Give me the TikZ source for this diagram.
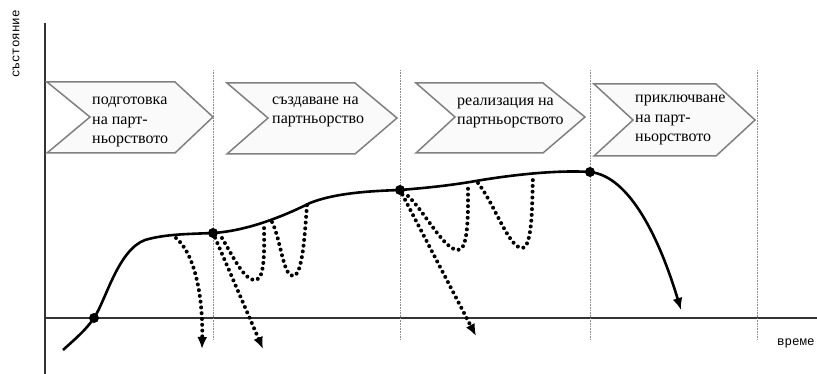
\documentclass[tikz,border=0pt]{standalone}
\usepackage{fontspec}
\setmainfont{Liberation Serif}
\newfontfamily\monof{Liberation Mono}
\usetikzlibrary{arrows.meta}
\begin{document}
\begin{tikzpicture}[x=1pt,y=-1pt,
  axisline/.style={draw=black!80,line width=1.2pt},
  sepline/.style={draw=black!45,line width=0.8pt,dash pattern=on 0.8pt off 0.8pt},
  chev/.style={draw=black!50,line width=1.5pt,fill=black!2,line join=miter},
  phasetext/.style={font=\fontsize{16}{19.5}\selectfont,align=left,anchor=west,inner sep=0pt},
  mainline/.style={line width=2.6pt,black},
  dotline/.style={line width=4pt,dash pattern=on 0pt off 5.8pt,line cap=round},
  tip/.style={-{Latex[length=12pt,width=10pt]}},
  axislabel/.style={font=\monof\fontsize{12.5}{13}\selectfont,inner sep=0pt},
  point/.style={circle,fill=black,inner sep=0pt,minimum size=10pt}
]
\useasboundingbox (0,0) rectangle (817,374);

% axes
\coordinate (ytop) at (45,23);
\coordinate (ybot) at (45,374);
\coordinate (xl) at (45,318);
\coordinate (xr) at (817,318);
\draw[axisline] (ybot) -- (ytop);
\draw[axisline] (xl) -- (xr);
\node[axislabel,rotate=90] (ylab) at (16,44) {състояние};
\node[axislabel,anchor=west] (xlab) at (777,343) {време};

% separators
\foreach \x/\n in {213/s1,400/s2,590/s3,757/s4}{
  \coordinate (\n t) at (\x,70);
  \coordinate (\n b) at (\x,340);
  \draw[sepline] (\n t) -- (\n b);
}

% chevrons
\draw[chev] (47,82) -- (175,82) -- (213,117) -- (175,153) -- (47,153) -- (90,117) -- cycle;
\draw[chev] (227,83) -- (355,83) -- (397,118) -- (355,154) -- (227,154) -- (268,118) -- cycle;
\draw[chev] (416,83) -- (543,83) -- (585,117) -- (543,153) -- (416,153) -- (455,117) -- cycle;
\draw[chev] (594,84) -- (716,84) -- (755,120) -- (716,156) -- (594,156) -- (633,120) -- cycle;

\node[phasetext] (p1) at (92,122) {подготовка\\на парт-\\ньорството};
\node[phasetext] (p2) at (272,112) {създаване на\\партньорство};
\node[phasetext] (p3) at (457,113) {реализация на\\партньорството};
\node[phasetext] (p4) at (635,120) {приключване\\на парт-\\ньорството};

% points
\node[point] (A) at (94,318) {};
\node[point] (B) at (213,233) {};
\node[point] (C) at (400,190) {};
\node[point] (D) at (590,172) {};
\coordinate (start) at (63,350);
\coordinate (endtip) at (681,310);

% main curve
\draw[mainline] (start) .. controls (74,340) and (86,330) .. (A.center)
  .. controls (106,300) and (118,250) .. (145,240)
  .. controls (165,234) and (190,234) .. (B.center)
  .. controls (245,231) and (280,218) .. (310,203)
  .. controls (335,193) and (370,191) .. (C.center)
  .. controls (425,188) and (445,186) .. (470,182)
  .. controls (515,174) and (560,170) .. (D.center);
\draw[mainline,tip] (D.center) .. controls (630,176) and (660,240) .. (endtip);

% dotted trajectories
\coordinate (a0) at (176,238);
\coordinate (a1) at (202,349);
\draw[dotline,tip] (a0) .. controls (196,255) and (203,300) .. (a1);
\coordinate (b1) at (263,349);
\draw[dotline,tip] (B) -- (b1);
\coordinate (c0) at (222,238);
\coordinate (c1) at (256,280);
\coordinate (c2) at (264,223);
\draw[dotline] (c0) .. controls (236,262) and (245,281) .. (c1) .. controls (266,279) and (264,240) .. (c2);
\coordinate (d0) at (272,222);
\coordinate (d1) at (293,276);
\coordinate (d2) at (307,205);
\draw[dotline] (d0) .. controls (281,240) and (283,276) .. (d1) .. controls (303,276) and (305,230) .. (d2);
\coordinate (e1) at (476,336);
\draw[dotline,tip] (C) -- (e1);
\coordinate (f0) at (408,196);
\coordinate (f1) at (458,250);
\coordinate (f2) at (468,184);
\draw[dotline] (f0) .. controls (425,212) and (444,250) .. (f1) .. controls (469,250) and (468,210) .. (f2);
\coordinate (g0) at (478,183);
\coordinate (g1) at (522,248);
\coordinate (g2) at (533,175);
\draw[dotline] (g0) .. controls (495,205) and (509,248) .. (g1) .. controls (533,248) and (532,200) .. (g2);
\end{tikzpicture}
\end{document}
